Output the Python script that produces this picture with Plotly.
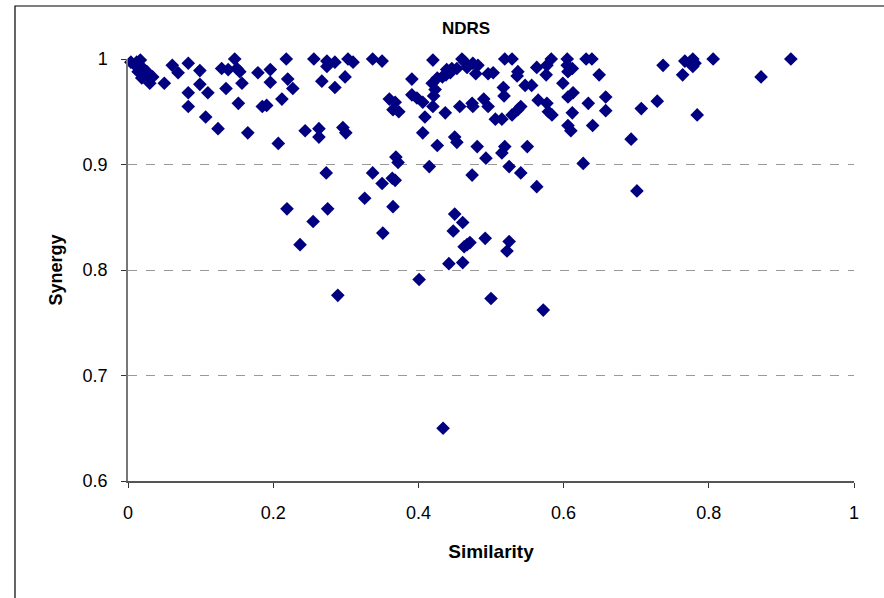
import plotly.graph_objects as go

similarity = [
    0.017, 0.010, 0.021, 0.023, 0.030, 0.019, 0.034, 0.012, 0.004, 0.026, 0.014,
    0.050, 0.061, 0.069, 0.083, 0.099, 0.099, 0.083, 0.110, 0.083, 0.107, 0.124,
    0.129, 0.138, 0.147, 0.150, 0.154, 0.135, 0.157, 0.152, 0.165, 0.179, 0.196,
    0.196, 0.185, 0.191, 0.212, 0.218, 0.220, 0.227, 0.207, 0.244, 0.256, 0.263,
    0.263, 0.296, 0.300, 0.274, 0.285, 0.274, 0.303, 0.310, 0.267, 0.285, 0.299,
    0.337, 0.350, 0.273, 0.337, 0.326, 0.219, 0.275, 0.255, 0.237, 0.289,
    0.369, 0.372, 0.350, 0.364, 0.368, 0.365, 0.351, 0.360, 0.368, 0.365, 0.373,
    0.391, 0.420, 0.391, 0.398, 0.406, 0.409, 0.420, 0.437, 0.406, 0.426, 0.450,
    0.453, 0.481, 0.493, 0.415, 0.474, 0.457, 0.474, 0.490, 0.419, 0.423, 0.421,
    0.426, 0.433, 0.439, 0.446, 0.444, 0.453, 0.460, 0.464, 0.467, 0.475, 0.479,
    0.482, 0.496, 0.438, 0.503, 0.519, 0.529, 0.537, 0.536, 0.563, 0.577, 0.583,
    0.576, 0.605, 0.605, 0.606, 0.612, 0.631, 0.639, 0.649, 0.517, 0.518, 0.547,
    0.556, 0.599, 0.475, 0.496, 0.506, 0.515, 0.529, 0.541, 0.537, 0.565, 0.577,
    0.579, 0.584, 0.606, 0.613, 0.612, 0.634, 0.658, 0.658, 0.606, 0.610, 0.640,
    0.519, 0.515, 0.550, 0.627, 0.525, 0.541, 0.563, 0.450, 0.461, 0.448, 0.467,
    0.471, 0.463, 0.492, 0.525, 0.522, 0.442, 0.461, 0.401, 0.500, 0.572, 0.434,
    0.737, 0.767, 0.778, 0.781, 0.778, 0.774, 0.806, 0.913, 0.764, 0.872, 0.707,
    0.729, 0.784, 0.693, 0.701,
]

synergy = [
    0.999, 0.994, 0.991, 0.985, 0.977, 0.982, 0.983, 0.997, 0.997, 0.988, 0.988,
    0.977, 0.994, 0.987, 0.996, 0.989, 0.976, 0.968, 0.968, 0.955, 0.945, 0.934,
    0.991, 0.990, 1.000, 0.991, 0.988, 0.972, 0.977, 0.958, 0.930, 0.987, 0.990,
    0.978, 0.955, 0.956, 0.962, 1.000, 0.981, 0.972, 0.920, 0.932, 1.000, 0.934,
    0.926, 0.935, 0.930, 0.998, 0.997, 0.993, 1.000, 0.997, 0.979, 0.973, 0.983,
    1.000, 0.998, 0.892, 0.892, 0.868, 0.858, 0.858, 0.846, 0.824, 0.776,
    0.907, 0.902, 0.882, 0.887, 0.885, 0.860, 0.835, 0.962, 0.959, 0.952, 0.950,
    0.981, 0.999, 0.966, 0.963, 0.959, 0.945, 0.955, 0.949, 0.930, 0.918, 0.926,
    0.921, 0.917, 0.906, 0.898, 0.890, 0.955, 0.958, 0.962, 0.977, 0.971, 0.965,
    0.982, 0.983, 0.990, 0.991, 0.987, 0.991, 1.000, 0.997, 0.992, 0.996, 0.986,
    0.994, 0.986, 0.985, 0.987, 1.000, 1.000, 0.988, 0.984, 0.992, 0.994, 1.000,
    0.985, 1.000, 0.994, 0.988, 0.991, 1.000, 1.000, 0.985, 0.973, 0.965, 0.975,
    0.975, 0.977, 0.955, 0.955, 0.943, 0.943, 0.947, 0.955, 0.952, 0.961, 0.958,
    0.950, 0.947, 0.964, 0.968, 0.949, 0.958, 0.964, 0.951, 0.937, 0.932, 0.937,
    0.917, 0.911, 0.917, 0.901, 0.898, 0.892, 0.879, 0.853, 0.845, 0.837, 0.824,
    0.826, 0.822, 0.830, 0.827, 0.818, 0.806, 0.807, 0.791, 0.773, 0.762, 0.650,
    0.994, 0.998, 1.000, 0.996, 0.993, 0.997, 1.000, 1.000, 0.985, 0.983, 0.953,
    0.960, 0.947, 0.924, 0.875,
]

x_ticks = [0, 0.2, 0.4, 0.6, 0.8, 1]
y_ticks = [0.6, 0.7, 0.8, 0.9, 1]

FONT = "Liberation Sans, Arial, sans-serif"
W, H = 884, 598
L, R, T, B = 128, 30, 59, 117

fig = go.Figure()
fig.add_trace(go.Scatter(
    x=similarity, y=synergy, mode="markers",
    marker=dict(symbol="diamond", size=10.5, color="#000080", line=dict(width=0)),
    cliponaxis=False, showlegend=False, hoverinfo="x+y",
))

pw = W - L - R
ph = H - T - B

# chart-area frame (extends past the picture on right and bottom)
fig.add_shape(type="rect", xref="paper", yref="paper",
              x0=(15 - L) / pw, x1=(W + 40 - L) / pw,
              y0=-(H + 40 - (T + ph)) / ph, y1=(T + ph - 6) / ph,
              line=dict(color="black", width=1.2), fillcolor="rgba(0,0,0,0)",
              layer="below")

fig.update_layout(
    width=W, height=H,
    margin=dict(l=L, r=R, t=T, b=B),
    paper_bgcolor="white", plot_bgcolor="white",
    font=dict(family=FONT, size=18, color="black"),
    title=dict(text="<b>NDRS</b>", x=466 / W, xanchor="center",
               y=1 - 28 / H, yanchor="middle",
               font=dict(family=FONT, size=17, color="black")),
    xaxis=dict(range=[0, 1], tickvals=x_ticks, ticktext=[str(v) for v in x_ticks],
               ticks="outside", ticklen=5, tickcolor="#333", tickwidth=1,
               ticklabelstandoff=10,
               showline=True, linecolor="#555", linewidth=1.5,
               showgrid=False, zeroline=False,
               tickfont=dict(family=FONT, size=18),
               title=dict(text="<b>Similarity</b>", standoff=22,
                          font=dict(family=FONT, size=19))),
    yaxis=dict(range=[0.6, 1.0], tickvals=y_ticks, ticktext=[str(v) for v in y_ticks],
               ticks="outside", ticklen=5, tickcolor="#333", tickwidth=1,
               ticklabelstandoff=10,
               showline=True, linecolor="#777", linewidth=1.5,
               showgrid=True, gridcolor="#999", griddash="dash", gridwidth=1,
               zeroline=False,
               tickfont=dict(family=FONT, size=18),
               title=dict(text="<b>Synergy</b>", standoff=15,
                          font=dict(family=FONT, size=18))),
)

fig.write_html("out.html")
